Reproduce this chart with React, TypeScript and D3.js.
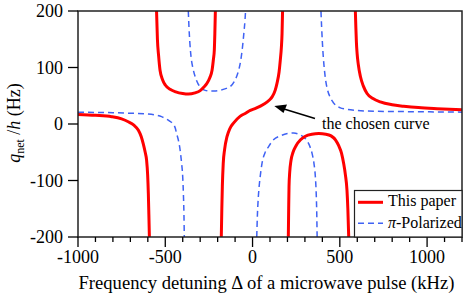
import React from 'react';
import * as d3 from 'd3';

// detuning (kHz), q_net/h (Hz), one array per branch
const redLeft = [
  [-1000, 17], [-900, 15.5], [-807, 13], [-750, 9], [-712, 4], [-680, -2], [-654, -11],
  [-638, -22], [-626, -35], [-615, -50], [-607, -64], [-601, -90], [-597, -123],
  [-594, -160], [-591, -200],
];
const redU = [
  [-550, 200], [-545, 150], [-538, 120], [-530, 95], [-515, 78], [-500, 69], [-470, 61],
  [-440, 57], [-400, 54], [-368, 53], [-330, 55], [-300, 59], [-280, 65], [-261, 72],
  [-245, 82], [-232, 95], [-224, 115], [-219, 131], [-216, 160], [-213, 200],
];
const redMiddle = [
  [-179, -200], [-176, -150], [-173, -110], [-168, -70], [-160, -45], [-146, -22],
  [-130, -8], [-108, 2], [-70, 14], [-40, 19], [-13, 24], [20, 28], [64, 35], [95, 42],
  [112, 48], [130, 60], [140, 72], [152, 92], [159, 113], [165, 135], [169, 160], [172, 200],
];
const redArch = [
  [205, -200], [207, -150], [209, -110], [213, -85], [220, -65], [232, -50], [250, -38],
  [275, -28], [300, -22], [340, -18], [380, -17], [420, -18], [450, -21], [475, -28],
  [493, -38], [510, -52], [522, -70], [532, -90], [541, -117], [546, -150], [551, -200],
];
const redRight = [
  [589, 200], [592, 170], [595, 145], [599, 125], [606, 105], [618, 84], [635, 67],
  [656, 54], [690, 45], [732, 39], [800, 34], [866, 31.5], [950, 29], [1057, 27], [1200, 25],
];

const blueLeft = [
  [-1000, 21], [-900, 20.5], [-800, 20], [-700, 19], [-616, 18], [-560, 16], [-521, 13],
  [-495, 9], [-475, 5], [-454, 0], [-442, -8], [-435, -17], [-424, -30], [-415, -46],
  [-407, -68], [-400, -94], [-396, -125], [-393, -160], [-391, -200],
];
const blueU = [
  [-368, 200], [-364, 170], [-359, 143], [-352, 118], [-341, 98], [-328, 83], [-312, 71],
  [-295, 64], [-275, 60], [-250, 58.5], [-220, 58.5], [-185, 60], [-150, 63], [-125, 67],
  [-105, 75], [-90, 85], [-78, 97], [-68, 112], [-58, 135], [-50, 160], [-43, 185], [-40, 200],
];
const blueArch = [
  [24, -200], [28, -160], [33, -130], [38, -110], [45, -90], [54, -70], [70, -52],
  [92, -40], [120, -28], [159, -21], [200, -17], [236, -16], [270, -19], [303, -26],
  [325, -37], [341, -52], [352, -70], [360, -94], [365, -125], [368, -160], [370, -200],
];
const blueRight = [
  [392, 200], [396, 170], [400, 145], [405, 120], [412, 95], [420, 75], [430, 60],
  [445, 47], [465, 37], [500, 29], [540, 26], [600, 24], [700, 22.5], [850, 22],
  [1000, 21.5], [1200, 21],
];

const xMajor = [-1000, -500, 0, 500, 1000];
const xMinor = d3.range(-1000, 1201, 100);
const yTicks = [-200, -100, 0, 100, 200];

const W = 463, H = 296;
const left = 78, right = 462, top = 11, bottom = 237;
const serif = '"Liberation Serif", "Times New Roman", serif';
const RED = '#ff0000';
const BLUE = '#3f62f4';

export default function App() {
  const x = d3.scaleLinear().domain([-1000, 1200]).range([left, right]);
  const y = d3.scaleLinear().domain([-200, 200]).range([bottom, top]);
  const line = d3.line<number[]>()
    .x(d => x(d[0]))
    .y(d => y(d[1]))
    .curve(d3.curveMonotoneX);

  const reds = [redLeft, redU, redMiddle, redArch, redRight];
  const blues = [blueLeft, blueU, blueArch, blueRight];

  return (
    <svg width={W} height={H} style={{ position: 'absolute', left: 0, top: 0 }} fontFamily={serif}>
      <defs>
        <clipPath id="plot">
          <rect x={left} y={top} width={right - left} height={bottom - top} />
        </clipPath>
      </defs>
      <rect width={W} height={H} fill="#fff" />

      <g clipPath="url(#plot)">
        {blues.map((b, i) => (
          <path key={'b' + i} d={line(b as any) || ''} fill="none" stroke={BLUE}
            strokeWidth={1.5} strokeDasharray="6,4" />
        ))}
        {reds.map((r, i) => (
          <path key={'r' + i} d={line(r as any) || ''} fill="none" stroke={RED} strokeWidth={3} />
        ))}
      </g>

      {/* frame */}
      <rect x={left} y={top} width={right - left} height={bottom - top} fill="none"
        stroke="#222" strokeWidth={1.5} />

      {/* x ticks */}
      {xMinor.map(t => (
        <line key={'m' + t} x1={x(t)} x2={x(t)} y1={bottom} y2={bottom + (xMajor.includes(t) ? 10 : 5)}
          stroke="#000" strokeWidth={1.3} />
      ))}
      {xMajor.map(t => (
        <text key={'xl' + t} x={x(t)} y={262.5} fontSize={18} textAnchor="middle">{t}</text>
      ))}

      {/* y ticks */}
      {yTicks.map(t => (
        <g key={'y' + t}>
          <line x1={left - 10} x2={left} y1={y(t)} y2={y(t)} stroke="#000" strokeWidth={1.3} />
          <text x={63} y={y(t) + 6} fontSize={18} textAnchor="end">{t}</text>
        </g>
      ))}

      {/* axis titles */}
      <text x={78.5} y={288.5} fontSize={18.6} textLength={376} lengthAdjust="spacingAndGlyphs">
        Frequency detuning Δ of a microwave pulse (kHz)
      </text>
      <text transform="translate(20,123) rotate(-90)" fontSize={18} textAnchor="middle">
        <tspan fontStyle="italic">q</tspan>
        <tspan fontSize={12} dy={4}>net</tspan>
        <tspan dy={-4}> /</tspan>
        <tspan fontStyle="italic">h</tspan>
        <tspan> (Hz)</tspan>
      </text>

      {/* annotation */}
      <line x1={315} y1={118.5} x2={284} y2={109} stroke="#000" strokeWidth={1.5} />
      <path d="M274.3,106 L287,104.5 L283.5,113 Z" fill="#000" />
      <text x={322} y={129} fontSize={16}>the chosen curve</text>

      {/* legend */}
      <rect x={354.5} y={190.5} width={right - 354.5} height={bottom - 190.5} fill="#fff"
        stroke="#222" strokeWidth={1.2} />
      <line x1={358} x2={383} y1={202.3} y2={202.3} stroke={RED} strokeWidth={3} />
      <text x={388} y={205.5} fontSize={16}>This paper</text>
      <line x1={358} x2={383} y1={223.3} y2={223.3} stroke={BLUE} strokeWidth={1.5} strokeDasharray="6,4" />
      <text x={388} y={228} fontSize={16}>
        <tspan fontStyle="italic">π</tspan>-Polarized
      </text>
    </svg>
  );
}
